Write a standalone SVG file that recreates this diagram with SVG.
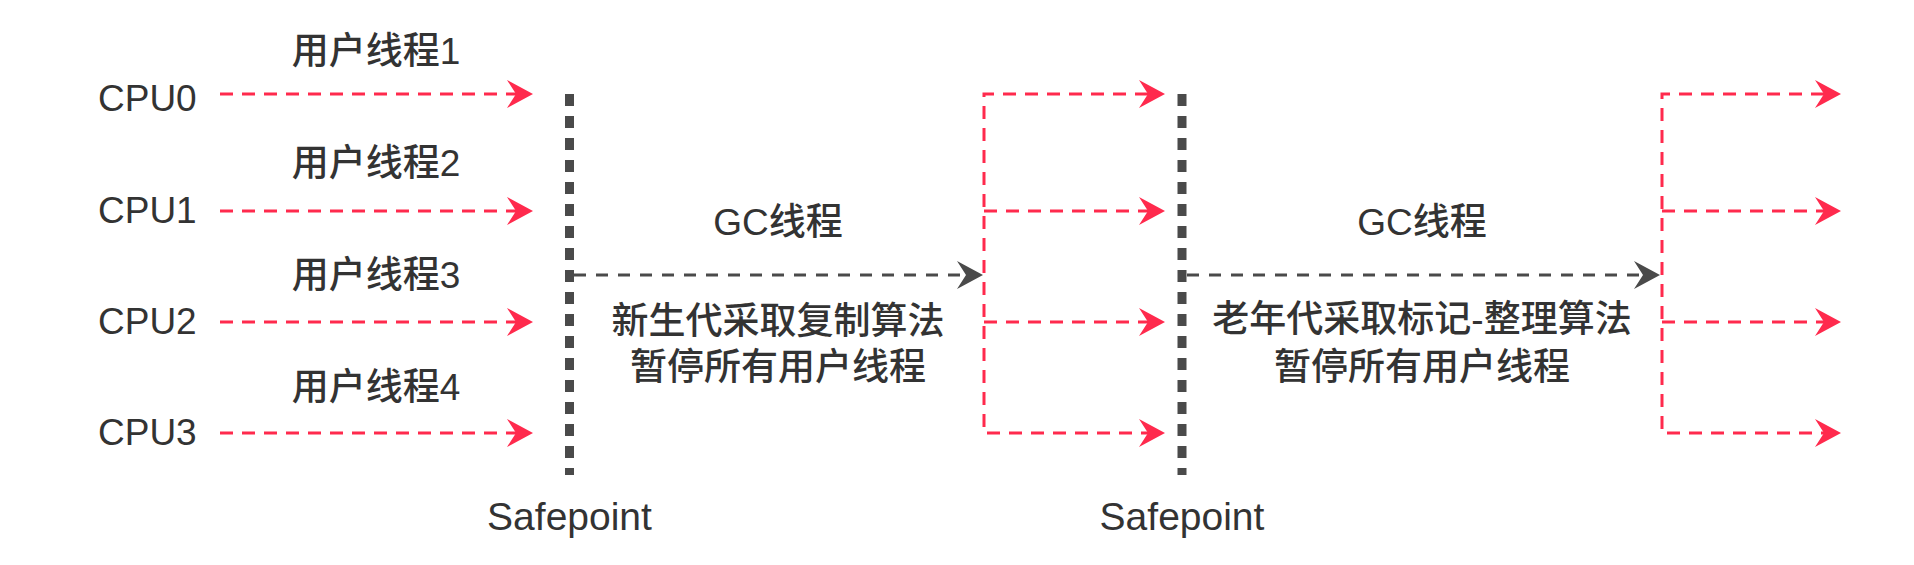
<svg xmlns="http://www.w3.org/2000/svg" width="1914" height="565" viewBox="0 0 1914 565">
<style>
.t{font-family:"Liberation Sans","Noto Sans CJK SC",sans-serif;font-size:37px;fill:#333333;font-weight:500}
.c{text-anchor:middle}
.red{stroke:#FF2A4D;stroke-width:3;fill:none;stroke-dasharray:13 9}
.gray{stroke:#4A4A4A;stroke-width:3;fill:none;stroke-dasharray:12 10}
.sp{stroke:#4A4A4A;stroke-width:9;fill:none;stroke-dasharray:12 10}
.rh{fill:#FF2A4D}
.gh{fill:#4A4A4A}
</style>
<defs>
<path id="ah" d="M0,0 L-26,-14 L-17,0 L-26,14 Z"/>
</defs>
<rect width="1914" height="565" fill="#ffffff"/>
<g id="cpu-labels">
<text class="t" x="98" y="111">CPU0</text>
<text class="t" x="98" y="223">CPU1</text>
<text class="t" x="98" y="334">CPU2</text>
<text class="t" x="98" y="445">CPU3</text>
</g>
<g id="thread-labels">
<text class="t c" x="376" y="64">用户线程1</text>
<text class="t c" x="376" y="176">用户线程2</text>
<text class="t c" x="376" y="288">用户线程3</text>
<text class="t c" x="376" y="400">用户线程4</text>
</g>
<g id="safepoint1">
<line class="sp" x1="569.5" y1="94" x2="569.5" y2="475"/>
<text class="t c" x="569.5" y="530" style="font-size:39px">Safepoint</text>
</g>
<g id="safepoint2">
<line class="sp" x1="1182" y1="94" x2="1182" y2="475"/>
<text class="t c" x="1182" y="530" style="font-size:39px">Safepoint</text>
</g>
<g id="gc1">
<text class="t c" x="778" y="235">GC线程</text>
<text class="t c" x="778" y="334">新生代采取复制算法</text>
<text class="t c" x="778" y="380">暂停所有用户线程</text>
</g>
<g id="gc2">
<text class="t c" x="1422" y="235">GC线程</text>
<text class="t c" x="1422" y="332">老年代采取标记-整理算法</text>
<text class="t c" x="1422" y="380">暂停所有用户线程</text>
</g>
<g id="connectors">
<path class="red" d="M220,94 H516"/>
<path class="red" d="M220,211 H516"/>
<path class="red" d="M220,322 H516"/>
<path class="red" d="M220,433 H516"/>
<use href="#ah" class="rh" x="533" y="94"/>
<use href="#ah" class="rh" x="533" y="211"/>
<use href="#ah" class="rh" x="533" y="322"/>
<use href="#ah" class="rh" x="533" y="433"/>
<path class="gray" d="M574,275 H966"/>
<use href="#ah" class="gh" x="983" y="275"/>
<path class="red" d="M1148,94 H984 V433 H1148"/>
<path class="red" d="M984,211 H1148"/>
<path class="red" d="M984,322 H1148"/>
<use href="#ah" class="rh" x="1165" y="94"/>
<use href="#ah" class="rh" x="1165" y="211"/>
<use href="#ah" class="rh" x="1165" y="322"/>
<use href="#ah" class="rh" x="1165" y="433"/>
<path class="gray" d="M1187,275 H1643"/>
<use href="#ah" class="gh" x="1660" y="275"/>
<path class="red" d="M1824,94 H1662 V433 H1824"/>
<path class="red" d="M1662,211 H1824"/>
<path class="red" d="M1662,322 H1824"/>
<use href="#ah" class="rh" x="1841" y="94"/>
<use href="#ah" class="rh" x="1841" y="211"/>
<use href="#ah" class="rh" x="1841" y="322"/>
<use href="#ah" class="rh" x="1841" y="433"/>
</g>
</svg>
